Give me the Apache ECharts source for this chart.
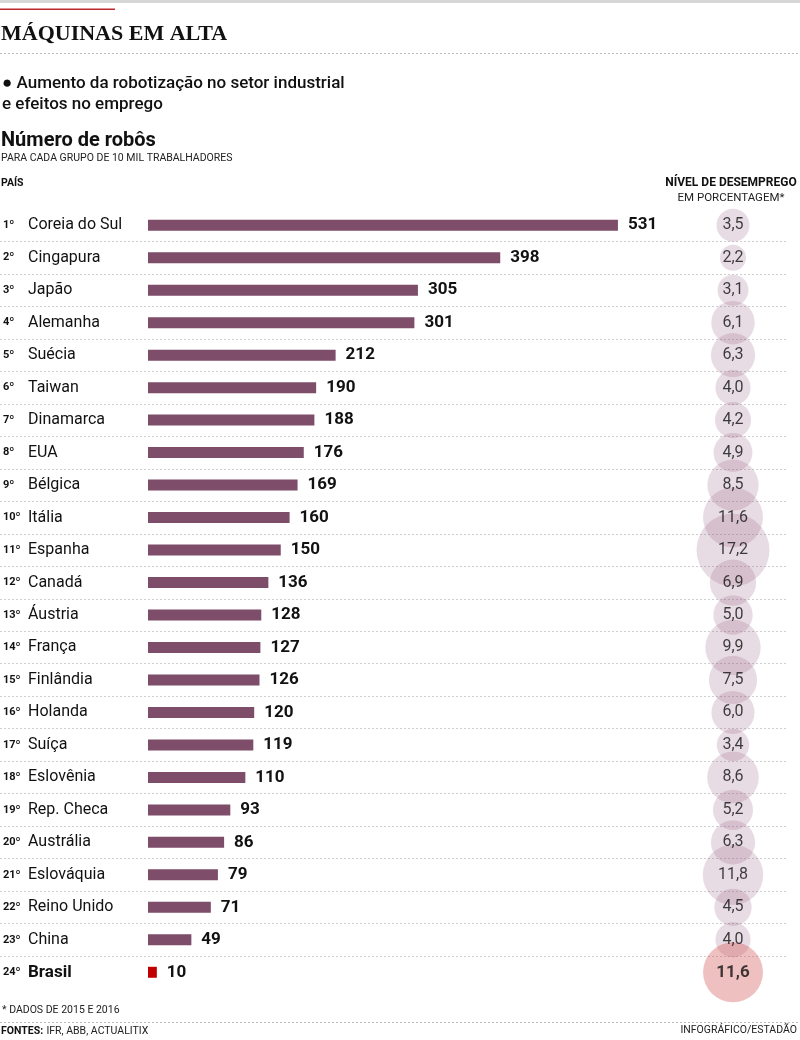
<!DOCTYPE html>
<html><head><meta charset="utf-8">
<script src="https://cdn.jsdelivr.net/npm/echarts@6/dist/echarts.min.js"></script>
<style>html,body{margin:0;padding:0;background:#fff}#c{width:800px;height:1040px}</style>
</head><body><div id="c"></div>
<script>
const ranks = ['1º','2º','3º','4º','5º','6º','7º','8º','9º','10º','11º','12º','13º','14º','15º','16º','17º','18º','19º','20º','21º','22º','23º','24º'];
const countries = ['Coreia do Sul','Cingapura','Japão','Alemanha','Suécia','Taiwan','Dinamarca','EUA','Bélgica','Itália','Espanha','Canadá','Áustria','França','Finlândia','Holanda','Suíça','Eslovênia','Rep. Checa','Austrália','Eslováquia','Reino Unido','China','Brasil'];
const robots = [531,398,305,301,212,190,188,176,169,160,150,136,128,127,126,120,119,110,93,86,79,71,49,10];
const unemployment = [3.5,2.2,3.1,6.1,6.3,4.0,4.2,4.9,8.5,11.6,17.2,6.9,5.0,9.9,7.5,6.0,3.4,8.6,5.2,6.3,11.8,4.5,4.0,11.6];

const F = 'Roboto, "Noto Sans", sans-serif';
const N = countries.length;
const HL = N - 1; // Brasil highlighted
const top0 = 209, rowH = 32.48, h = rowH * N;
const fmt = v => v.toFixed(1).replace('.', ',');

const chart = echarts.init(document.getElementById('c'), null, {renderer: 'canvas'});
const catAxis = (gi, extra) => Object.assign({
  type: 'category', gridIndex: gi, data: countries, inverse: true,
  axisLine: {show: false}, axisTick: {show: false}, axisLabel: {show: false}
}, extra || {});

chart.setOption({
  animation: false,
  grid: [
    {left: 0, width: 787, top: top0 + rowH, height: rowH * (N - 2)},
    {left: 147, width: 532, top: top0, height: h},
    {left: 700, width: 66, top: top0, height: h}
  ],
  xAxis: [
    {type: 'value', gridIndex: 0, show: false},
    {type: 'value', gridIndex: 1, min: 0, max: 600, show: false},
    {type: 'value', gridIndex: 2, min: -1, max: 1, show: false}
  ],
  yAxis: [
    {type: 'value', gridIndex: 0, min: 1, max: N - 1, interval: 1,
     axisLine: {show: false}, axisTick: {show: false}, axisLabel: {show: false},
     splitLine: {show: true, lineStyle: {color: '#cfcfcf', type: [2, 2], width: 1}}},
    catAxis(1, {axisLabel: {
      show: true, align: 'left', margin: 145, interval: 0,
      formatter: (v, i) => i === HL ? '{rb|' + ranks[i] + '}{cb|' + v + '}' : '{r|' + ranks[i] + '}{c|' + v + '}',
      rich: {
        r: {fontFamily: F, fontSize: 11, fontWeight: 'bold', color: '#111', width: 25},
        rb: {fontFamily: F, fontSize: 11, fontWeight: 'bold', color: '#111', width: 25},
        c: {fontFamily: F, fontSize: 16, color: '#111'},
        cb: {fontFamily: F, fontSize: 17, fontWeight: 'bold', color: '#111'}
      }
    }}),
    catAxis(2)
  ],
  graphic: [
    {type: 'rect', shape: {x: 0, y: 0, width: 800, height: 3}, style: {fill: '#d6d6d6'}},
    {type: 'rect', shape: {x: 0, y: 8.5, width: 115, height: 1.5}, style: {fill: '#c0272d'}},
    {type: 'text', left: 1, top: 23, style: {text: 'MÁQUINAS EM ALTA', font: 'bold 22px "Liberation Serif", "DejaVu Serif", serif', fill: '#111'}},
    {type: 'line', shape: {x1: 0, y1: 53.5, x2: 800, y2: 53.5}, style: {stroke: '#bdbdbd', lineWidth: 1, lineDash: [2, 2]}},
    {type: 'text', left: 2, top: 73, style: {text: '● Aumento da robotização no setor industrial\ne efeitos no emprego', font: '500 17px ' + F, lineHeight: 21, fill: '#111'}},
    {type: 'text', left: 1, top: 131, style: {text: 'Número de robôs', font: 'bold 20px ' + F, fill: '#111'}},
    {type: 'text', left: 1, top: 153, style: {text: 'PARA CADA GRUPO DE 10 MIL TRABALHADORES', font: '10.5px ' + F, fill: '#222'}},
    {type: 'text', left: 1, top: 178, style: {text: 'PAÍS', font: 'bold 10.5px ' + F, fill: '#111'}},
    {type: 'text', x: 731, y: 177, style: {text: 'NÍVEL DE DESEMPREGO', textAlign: 'center', font: 'bold 12px ' + F, fill: '#111'}},
    {type: 'text', x: 731, y: 192, style: {text: 'EM PORCENTAGEM*', textAlign: 'center', font: '11.5px ' + F, fill: '#222'}},
    {type: 'text', left: 2, top: 1005, style: {text: '* DADOS DE 2015 E 2016', font: '10.5px ' + F, fill: '#222'}},
    {type: 'line', shape: {x1: 0, y1: 1022.5, x2: 800, y2: 1022.5}, style: {stroke: '#bdbdbd', lineWidth: 1, lineDash: [2, 2]}},
    {type: 'text', left: 1, top: 1025, style: {rich: {b: {font: 'bold 10.5px ' + F, fill: '#111'}, n: {font: '10.5px ' + F, fill: '#222'}}, text: '{b|FONTES:} {n|IFR, ABB, ACTUALITIX}'}},
    {type: 'text', right: 3, top: 1025, style: {text: 'INFOGRÁFICO/ESTADÃO', font: '10.5px ' + F, fill: '#222'}}
  ],
  series: [
    {
      type: 'bar', xAxisIndex: 1, yAxisIndex: 1, barWidth: 11,
      data: robots.map((v, i) => ({value: v, itemStyle: {color: i === HL ? '#c00000' : '#7d4d6a'}})),
      label: {show: true, position: 'right', distance: 10, fontFamily: F, fontSize: 17, fontWeight: 'bold', color: '#111'}
    },
    {
      type: 'scatter', xAxisIndex: 2, yAxisIndex: 2,
      data: unemployment.map((u, i) => ({value: [0, countries[i], u],
        itemStyle: {color: i === HL ? 'rgba(210,80,80,0.45)' : 'rgba(150,95,130,0.27)'},
        label: {fontWeight: i === HL ? 'bold' : 'normal', fontSize: i === HL ? 17 : 16}})),
      symbolSize: d => 17.6 * Math.sqrt(d[2]),
      label: {show: true, position: 'inside', formatter: p => fmt(p.value[2]), fontFamily: F, color: '#111'}
    }
  ]
});
</script></body></html>
